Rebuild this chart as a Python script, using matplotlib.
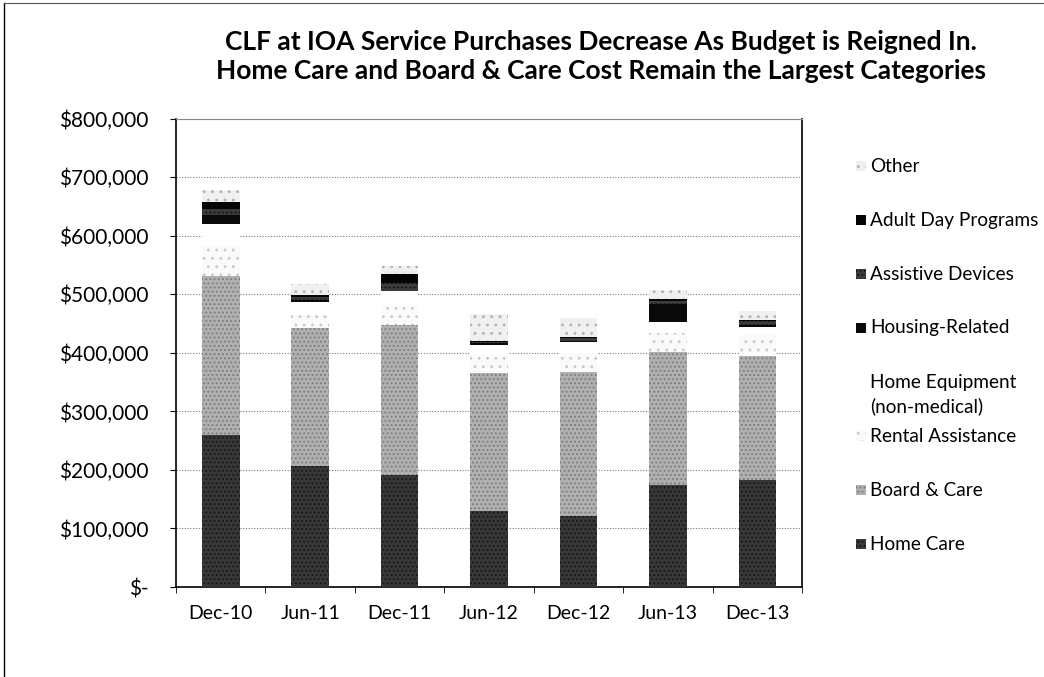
import matplotlib
matplotlib.use('Agg')
import matplotlib.pyplot as plt
from matplotlib.patches import Rectangle
from matplotlib.lines import Line2D
from matplotlib.ticker import FuncFormatter, MultipleLocator
import numpy as np

# ===== data =====
dates = ['Dec-10', 'Jun-11', 'Dec-11', 'Jun-12', 'Dec-12', 'Jun-13', 'Dec-13']
home_care  = [260000, 206000, 192000, 130000, 122000, 175000, 183000]
board_care = [272000, 237000, 256000, 235000, 246000, 227000, 212000]
rental     = [50000, 22000, 34000, 31000, 32000, 32000, 36000]
home_equip = [38000, 22000, 23000, 18000, 19000, 19000, 14000]
housing    = [15000, 3000, 1000, 3000, 2000, 30000, 2000]
assistive  = [10000, 6000, 14000, 2000, 5000, 6000, 7000]
adult_day  = [12000, 3500, 14000, 2000, 1600, 2500, 2400]
other      = [22000, 17500, 14000, 46000, 31600, 16000, 14600]

series = [
    ('Home Care', home_care, '#383838', '#151515', '....'),
    ('Board & Care', board_care, '#b0b0b0', '#7a7a7a', '....'),
    ('Rental Assistance', rental, '#fafafa', '#c8c8c8', '..'),
    ('Home Equipment\n(non-medical)', home_equip, '#ffffff', '#ffffff', None),
    ('Housing-Related', housing, '#0a0a0a', '#0a0a0a', None),
    ('Assistive Devices', assistive, '#3c3c3c', '#111111', '....'),
    ('Adult Day Programs', adult_day, '#050505', '#050505', None),
    ('Other', other, '#f0f0f0', '#b0b0b0', '..'),
]

plt.rcParams['font.family'] = ['Lato', 'DejaVu Sans']
plt.rcParams['hatch.linewidth'] = 0.8

fig = plt.figure(figsize=(10.44, 6.77), dpi=100)
ax = fig.add_axes([0.1686, 0.1329, 0.5996, 0.6918])

x = np.arange(len(dates))
bottom = np.zeros(len(dates))
for name, vals, fc, hc, hatch in series:
    ax.bar(x, vals, 0.42, bottom=bottom, color=fc, edgecolor=hc,
           hatch=hatch, linewidth=0, zorder=3)
    bottom += np.array(vals)

ax.set_xlim(-0.5, 6.5)
ax.set_ylim(0, 800000)
ax.yaxis.set_major_locator(MultipleLocator(100000))
ax.yaxis.set_major_formatter(FuncFormatter(
    lambda v, p: '$-' if v == 0 else '${:,.0f}'.format(v)))
ax.grid(axis='y', color='#777777', linestyle=(0, (1, 1.5)), linewidth=0.8, zorder=0)

ax.set_xticks(x)
ax.set_xticklabels(dates)
ax.set_xticks(np.arange(-0.5, 7, 1), minor=True)
ax.tick_params(axis='x', which='major', length=0, pad=13, labelsize=14)
ax.tick_params(axis='x', which='minor', length=4, direction='out')
ax.tick_params(axis='y', length=4, direction='out', pad=16, labelsize=15)

for s in ['left', 'bottom', 'right']:
    ax.spines[s].set_linewidth(1.2)
    ax.spines[s].set_color('black')
ax.spines['top'].set_color('#888888')
ax.spines['top'].set_linewidth(0.8)

# title
fig.text(0.5757, 0.938, 'CLF at IOA Service Purchases Decrease As Budget is Reigned In.',
         ha='center', va='center', fontsize=19, fontweight='bold')
fig.text(0.5757, 0.895, 'Home Care and Board & Care Cost Remain the Largest Categories',
         ha='center', va='center', fontsize=19, fontweight='bold')

# legend drawn by hand to mimic the Excel spacing
leg_y = [544, 490, 436, 382, 328, 274, 220, 166]
for (name, vals, fc, hc, hatch), yy in zip(series, leg_y):
    yf = 1 - yy / 677
    fig.patches.append(Rectangle((856 / 1044, yf - 5 / 677), 10 / 1044, 10 / 677,
                                 transform=fig.transFigure, facecolor=fc,
                                 edgecolor=hc, hatch=hatch, linewidth=0))
    fig.text(870 / 1044, yf, name.split('\n')[0], ha='left', va='center', fontsize=13.7)
    if '\n' in name:
        fig.text(870 / 1044, yf - 24 / 677, name.split('\n')[1], ha='left',
                 va='center', fontsize=13.7)

# scan frame lines at left and top
fig.add_artist(Line2D([0.004, 0.004], [0, 0.995], transform=fig.transFigure,
                      color='black', linewidth=1))
fig.add_artist(Line2D([0.004, 1], [0.995, 0.995], transform=fig.transFigure,
                      color='#555555', linewidth=0.8))

fig.savefig('out.png', dpi=100)
plt.close()
